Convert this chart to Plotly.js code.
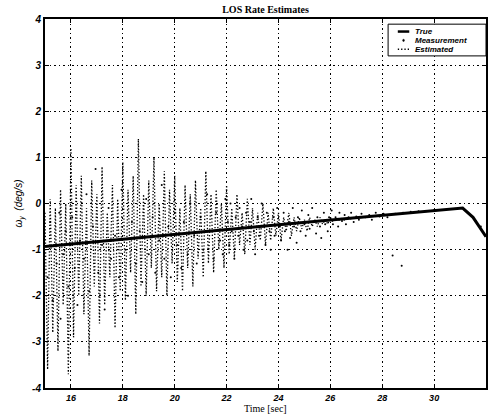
<!DOCTYPE html>
<html>
<head>
<meta charset="utf-8">
<script src="https://cdn.plot.ly/plotly-3.0.1.min.js"></script>
<style>html,body{margin:0;padding:0;background:#fff;}#chart{width:489px;height:414px;}</style>
</head>
<body>
<div id="chart"></div>
<script>
// True LOS rate (deg/s)
const trueT = [15.0, 18.0, 21.0, 24.0, 27.0, 29.0, 31.1, 31.5, 32.0];
const trueY = [-0.93, -0.78, -0.62, -0.46, -0.31, -0.21, -0.10, -0.30, -0.72];

// Estimated LOS rate (deg/s)
const estT = [15.0,15.1,15.2,15.3,15.4,15.5,15.6,15.7,15.8,15.9,
  16.0,16.1,16.2,16.3,16.4,16.5,16.6,16.7,16.8,16.9,
  17.0,17.1,17.2,17.3,17.4,17.5,17.6,17.7,17.8,17.9,
  18.0,18.1,18.2,18.3,18.4,18.5,18.6,18.7,18.8,18.9,
  19.0,19.1,19.2,19.3,19.4,19.5,19.6,19.7,19.8,19.9,
  20.0,20.1,20.2,20.3,20.4,20.5,20.6,20.7,20.8,20.9,
  21.0,21.1,21.2,21.3,21.4,21.5,21.6,21.7,21.8,21.9,
  22.0,22.1,22.2,22.3,22.4,22.5,22.6,22.7,22.8,22.9,
  23.0,23.1,23.2,23.3,23.4,23.5,23.6,23.7,23.8,23.9,
  24.0,24.1,24.2,24.3,24.4,24.5,24.6,24.7,24.8,24.9,
  25.0,25.1,25.2,25.3,25.4,25.5,25.6,25.7,25.8,25.9,
  26.0,26.1,26.2,26.3,26.4,26.5,27.0,28.0,29.0,30.0,31.1];
const estY = [-0.2,-3.6,0.1,-2.8,-0.1,-3.2,0.3,-2.2,0.0,-3.7,
  1.2,-2.9,0.4,-2.0,0.6,-2.4,-0.1,-3.3,0.5,-1.8,
  0.2,-2.6,0.8,-2.2,-0.2,-1.6,0.4,-2.7,0.1,-1.9,
  0.9,-2.1,0.3,-1.5,0.6,-2.4,1.4,-1.8,0.2,-2.0,
  0.5,-1.4,1.0,-1.9,0.0,-1.6,0.7,-2.0,0.3,-1.3,
  0.6,-1.7,-0.1,-1.9,0.4,-1.4,0.2,-1.8,0.5,-1.2,
  -0.1,-1.6,0.7,-1.3,0.2,-1.5,0.3,-1.0,0.0,-1.4,
  0.4,-1.1,-0.1,-1.2,0.2,-0.9,-0.2,-1.1,0.1,-0.9,
  -0.1,-1.0,-0.2,-0.8,0.0,-0.9,-0.2,-0.8,-0.1,-0.7,
  -0.2,-0.8,-0.3,-0.6,-0.2,-0.7,-0.3,-0.6,-0.3,-0.55,
  -0.35,-0.6,-0.3,-0.5,-0.35,-0.5,-0.3,-0.45,-0.35,-0.45,
  -0.3,-0.4,-0.33,-0.38,-0.32,-0.36,-0.31,-0.26,-0.21,-0.16,-0.10];

// Measurements (deg/s)
const measT = [15.1,15.2,15.3,15.35,15.45,15.55,15.6,15.7,15.8,15.9,
  16.05,16.15,16.25,16.35,16.5,16.6,16.7,16.85,16.95,17.05,
  17.2,17.3,17.45,17.55,17.7,17.85,17.95,18.1,18.2,18.35,
  18.5,18.65,18.75,18.9,19.0,19.15,19.25,19.4,19.5,19.6,
  19.75,19.85,20.0,20.1,20.25,20.35,20.5,20.6,20.75,20.85,
  21.0,21.1,21.25,21.35,21.5,21.6,21.75,21.85,21.95,
  22.05,22.1,22.15,22.2,22.3,22.35,22.45,22.5,22.6,22.65,
  22.75,22.8,22.9,22.95,23.05,23.1,23.2,23.25,23.35,23.4,
  23.5,23.55,23.65,23.7,23.8,23.85,23.95,24.05,24.1,24.2,
  24.25,24.35,24.4,24.45,24.55,24.6,24.7,24.75,24.85,24.9,
  25.0,25.05,25.15,25.2,25.3,25.35,25.45,25.5,25.6,25.65,
  25.75,25.8,25.9,25.95,26.05,26.1,26.2,26.3,26.35,26.45,
  26.55,26.6,26.7,26.8,26.9,27.0,27.1,27.2,27.35,27.5,
  27.6,27.75,27.9,28.05,28.2,28.4,28.75,28.5,28.8,29.1,
  29.4,30.0,31.3,31.6,31.8];
const measY = [-1.6,-0.4,-2.1,-0.9,-1.3,-0.2,-2.5,-1.1,-0.6,-1.8,
  -0.3,-1.4,-2.2,-0.8,-1.2,0.2,-1.9,-0.5,0.75,-1.5,
  -0.9,-2.3,-0.1,-1.2,-0.7,-1.6,0.3,-1.0,-2.0,-0.4,
  -1.3,-0.6,-1.7,0.1,-1.1,-0.3,-1.5,-0.8,0.4,-1.2,
  -0.5,-1.6,-0.2,-0.9,-1.4,-0.4,-1.1,0.0,-0.7,-1.3,
  -0.3,-1.0,0.2,-0.6,-1.2,-0.2,-0.8,-1.1,0.1,
  -0.4,-0.9,0.0,-0.6,-1.2,-0.3,-0.7,-0.1,-0.5,-1.0,
  -0.2,-0.8,-0.4,0.1,-0.6,-1.1,-0.3,-0.7,0.0,-0.5,
  -0.9,-0.2,-0.6,-1.0,-0.3,-0.7,-0.1,-0.5,-0.8,-0.2,
  -0.6,-1.0,-0.4,-0.75,-0.1,-0.5,-0.85,-0.3,-0.6,-0.15,
  -0.45,-0.7,-0.25,-0.55,-0.1,-0.4,-0.65,-0.3,-0.5,-0.75,
  -0.2,-0.45,-0.6,-0.3,-0.15,-0.45,-0.3,-0.5,-0.2,-0.38,
  -0.25,-0.45,-0.3,-0.2,-0.4,-0.28,-0.35,-0.22,-0.3,-0.25,
  -0.35,-0.2,-0.28,-0.22,-0.3,-1.13,-1.35,-0.22,-0.2,-0.18,
  -0.17,-0.14,-0.2,-0.38,-0.5];

const xTicks = [16, 18, 20, 22, 24, 26, 28, 30, 32];
const yTicks = [-4, -3, -2, -1, 0, 1, 2, 3, 4];
const legendNames = ['True', 'Measurement', 'Estimated'];

const traces = [
  {x: measT, y: measY, mode: 'markers', name: legendNames[1],
   marker: {color: '#000', size: 2}},
  {x: estT, y: estY, mode: 'lines', name: legendNames[2],
   line: {color: '#000', width: 1.3, dash: '1.3px,2px'}},
  {x: trueT, y: trueY, mode: 'lines', name: legendNames[0],
   line: {color: '#000', width: 3}}
];

const tickFontY = {family: 'Liberation Sans, Arial, sans-serif', size: 10, weight: 'bold', style: 'italic', color: '#000'};
const tickFontX = {family: 'Liberation Sans, Arial, sans-serif', size: 9, weight: 'bold', style: 'italic', color: '#000'};
const legFont = {family: 'Liberation Sans, Arial, sans-serif', size: 8, weight: 'bold', style: 'italic', color: '#000'};

// compact legend in paper coordinates
const rowY = [0.966, 0.942, 0.918];
const lx0 = 0.800, lx1 = 0.826, ltx = 0.836;
const shapes = [
  {type: 'rect', xref: 'paper', yref: 'paper', x0: 0.778, x1: 1.0, y0: 0.900, y1: 0.986,
   line: {color: '#000', width: 1}, fillcolor: '#fff', layer: 'above'},
  {type: 'line', xref: 'paper', yref: 'paper', x0: lx0, x1: lx1, y0: rowY[0], y1: rowY[0],
   line: {color: '#000', width: 2.5}, layer: 'above'},
  {type: 'circle', xref: 'paper', yref: 'paper', x0: 0.8110, x1: 0.8150, y0: rowY[1] - 0.003, y1: rowY[1] + 0.003,
   line: {color: '#000', width: 0.5}, fillcolor: '#000', layer: 'above'},
  {type: 'line', xref: 'paper', yref: 'paper', x0: lx0, x1: lx1, y0: rowY[2], y1: rowY[2],
   line: {color: '#000', width: 1.3, dash: '1.3px,2px'}, layer: 'above'}
];
const annotations = legendNames.map((n, i) => ({
  text: n, xref: 'paper', yref: 'paper', x: ltx, y: rowY[i], xanchor: 'left', yanchor: 'middle',
  showarrow: false, font: legFont, borderpad: 0
}));
annotations.push({
  text: 'Time [sec]', xref: 'paper', yref: 'paper', x: 0.5, y: -0.056, xanchor: 'center', yanchor: 'middle',
  showarrow: false, font: {family: 'Liberation Serif, Times New Roman, serif', size: 10, color: '#000'}, borderpad: 0
});

const layout = {
  width: 489, height: 414,
  margin: {l: 45, r: 3, t: 19, b: 26},
  paper_bgcolor: '#fff', plot_bgcolor: '#fff',
  showlegend: false,
  title: {text: 'LOS Rate Estimates', font: {family: 'Liberation Serif, Times New Roman, serif', size: 10, weight: 'bold', color: '#000'},
          x: 0.543, xanchor: 'center', y: 0.976, yanchor: 'middle', yref: 'container', xref: 'container'},
  shapes: shapes,
  annotations: annotations,
  xaxis: {range: [15, 32], tickvals: xTicks, ticktext: xTicks.map(String), tickfont: tickFontX,
          showgrid: true, gridcolor: '#000', griddash: '1.5px,3px', gridwidth: 1, zeroline: false,
          showline: true, linecolor: '#000', linewidth: 2, mirror: 'ticks', ticks: 'inside', ticklen: 4, tickcolor: '#000',
          automargin: false},
  yaxis: {range: [-4, 4], tickvals: yTicks, ticktext: yTicks.map(String), tickfont: tickFontY,
          showgrid: true, gridcolor: '#000', griddash: '1.5px,3px', gridwidth: 1, zeroline: false,
          showline: true, linecolor: '#000', linewidth: 2, mirror: 'ticks', ticks: 'inside', ticklen: 4, tickcolor: '#000',
          title: {text: 'ω<sub>y</sub>  (deg/s)', font: {family: 'Liberation Sans, Arial, sans-serif', size: 10, style: 'italic', color: '#000'}, standoff: 8},
          automargin: false}
};

Plotly.newPlot('chart', traces, layout, {displayModeBar: false, staticPlot: true});
</script>
</body>
</html>
